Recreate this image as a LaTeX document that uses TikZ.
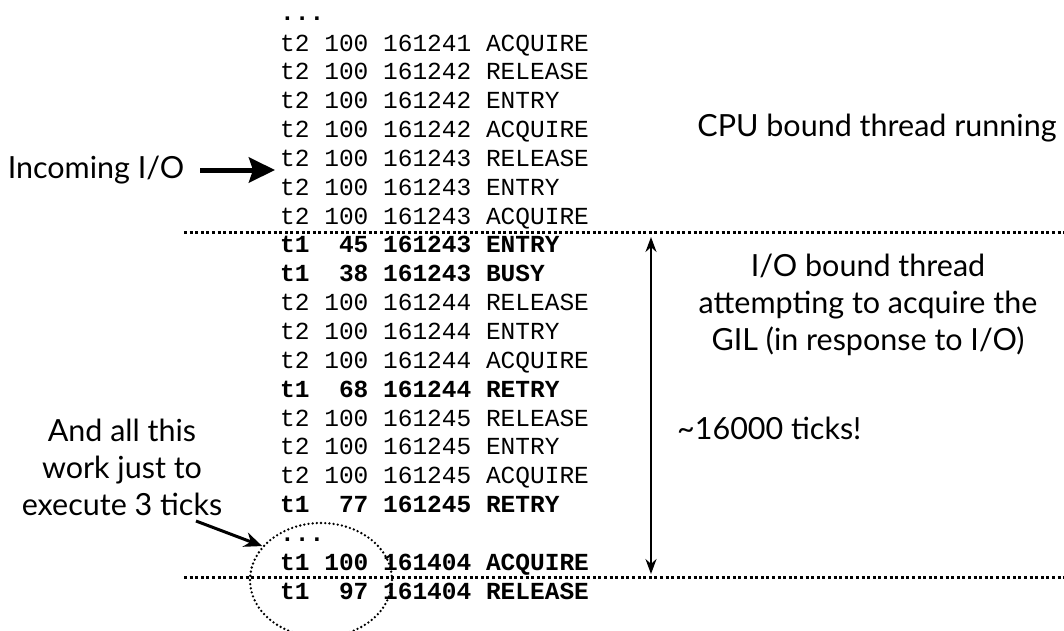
\documentclass[tikz,border=0pt]{standalone}
\usepackage{fontspec}
\usetikzlibrary{arrows.meta,shapes.geometric}
\newfontfamily\logfont{Liberation Mono}
\newfontfamily\labfont{Lato}
\begin{document}
\begin{tikzpicture}[x=1pt,y=-1pt,
  logrow/.style={anchor=base west,inner sep=0pt,font=\logfont\fontsize{24.5}{28}\selectfont},
  boldrow/.style={logrow,font=\logfont\bfseries\fontsize{24.5}{28}\selectfont},
  lab/.style={inner sep=0pt,align=center,font=\labfont\fontsize{30.5}{37}\selectfont},
  sep/.style={line width=3pt,dash pattern=on 3pt off 2.6pt},
]
\useasboundingbox (0,0) rectangle (1064,630);
% log rows
\node[boldrow] (r0) at (280,20) {...};
\node[logrow] (r1) at (280,51.0) {t2 100 161241 ACQUIRE};
\node[logrow] (r2) at (280,79.85) {t2 100 161242 RELEASE};
\node[logrow] (r3) at (280,108.7) {t2 100 161242 ENTRY};
\node[logrow] (r4) at (280,137.55) {t2 100 161242 ACQUIRE};
\node[logrow] (r5) at (280,166.4) {t2 100 161243 RELEASE};
\node[logrow] (r6) at (280,195.25) {t2 100 161243 ENTRY};
\node[logrow] (r7) at (280,224.1) {t2 100 161243 ACQUIRE};
\node[boldrow] (r8) at (280,252.95) {t1~~45 161243 ENTRY};
\node[boldrow] (r9) at (280,281.8) {t1~~38 161243 BUSY};
\node[logrow] (r10) at (280,310.65) {t2 100 161244 RELEASE};
\node[logrow] (r11) at (280,339.5) {t2 100 161244 ENTRY};
\node[logrow] (r12) at (280,368.35) {t2 100 161244 ACQUIRE};
\node[boldrow] (r13) at (280,397.2) {t1~~68 161244 RETRY};
\node[logrow] (r14) at (280,426.05) {t2 100 161245 RELEASE};
\node[logrow] (r15) at (280,454.9) {t2 100 161245 ENTRY};
\node[logrow] (r16) at (280,483.75) {t2 100 161245 ACQUIRE};
\node[boldrow] (r17) at (280,512.6) {t1~~77 161245 RETRY};
\node[boldrow] (r18) at (280,541.45) {...};
\node[boldrow] (r19) at (280,570.3) {t1 100 161404 ACQUIRE};
\node[boldrow] (r20) at (280,599.15) {t1~~97 161404 RELEASE};
% separators
\coordinate (s1a) at (184,232);
\coordinate (s1b) at (1064,232);
\coordinate (s2a) at (184,577);
\coordinate (s2b) at (1064,577);
\draw[sep] (s1a) -- (s1b);
\draw[sep] (s2a) -- (s2b);
% labels
\node[lab] (inc) at (96,170) {Incoming I/O};
\node[lab] (cpu) at (877,128) {CPU bound thread running};
\node[lab] (io) at (868,305) {I/O bound thread\\attempting to acquire the\\GIL (in response to I/O)};
\node[lab,anchor=west] (ticks) at (677,428) {\textasciitilde16000 ticks!};
\node[lab] (work) at (122,467) {And all this\\work just to\\execute 3 ticks};
% incoming arrow
\coordinate (incs) at (200,170);
\coordinate (ince) at (275,170);
\draw[line width=5pt,-{Stealth[length=26pt,width=25pt,inset=4pt]}] (incs) -- (ince);
% double arrow
\coordinate (da) at (651,237);
\coordinate (db) at (651,574);
\draw[line width=2pt,{Stealth[length=15pt,width=11pt]}-{Stealth[length=15pt,width=11pt]}] (da) -- (db);
% ellipse
\node[ellipse,draw,line width=2.6pt,line cap=round,dash pattern=on 0pt off 4.2pt,minimum width=142pt,minimum height=114pt,inner sep=0pt] (ell) at (321,580) {};
\coordinate (wa) at (196,521);
\draw[line width=3pt,-{Stealth[length=18pt,width=15pt]}] (wa) -- (ell.150);
\end{tikzpicture}
\end{document}
